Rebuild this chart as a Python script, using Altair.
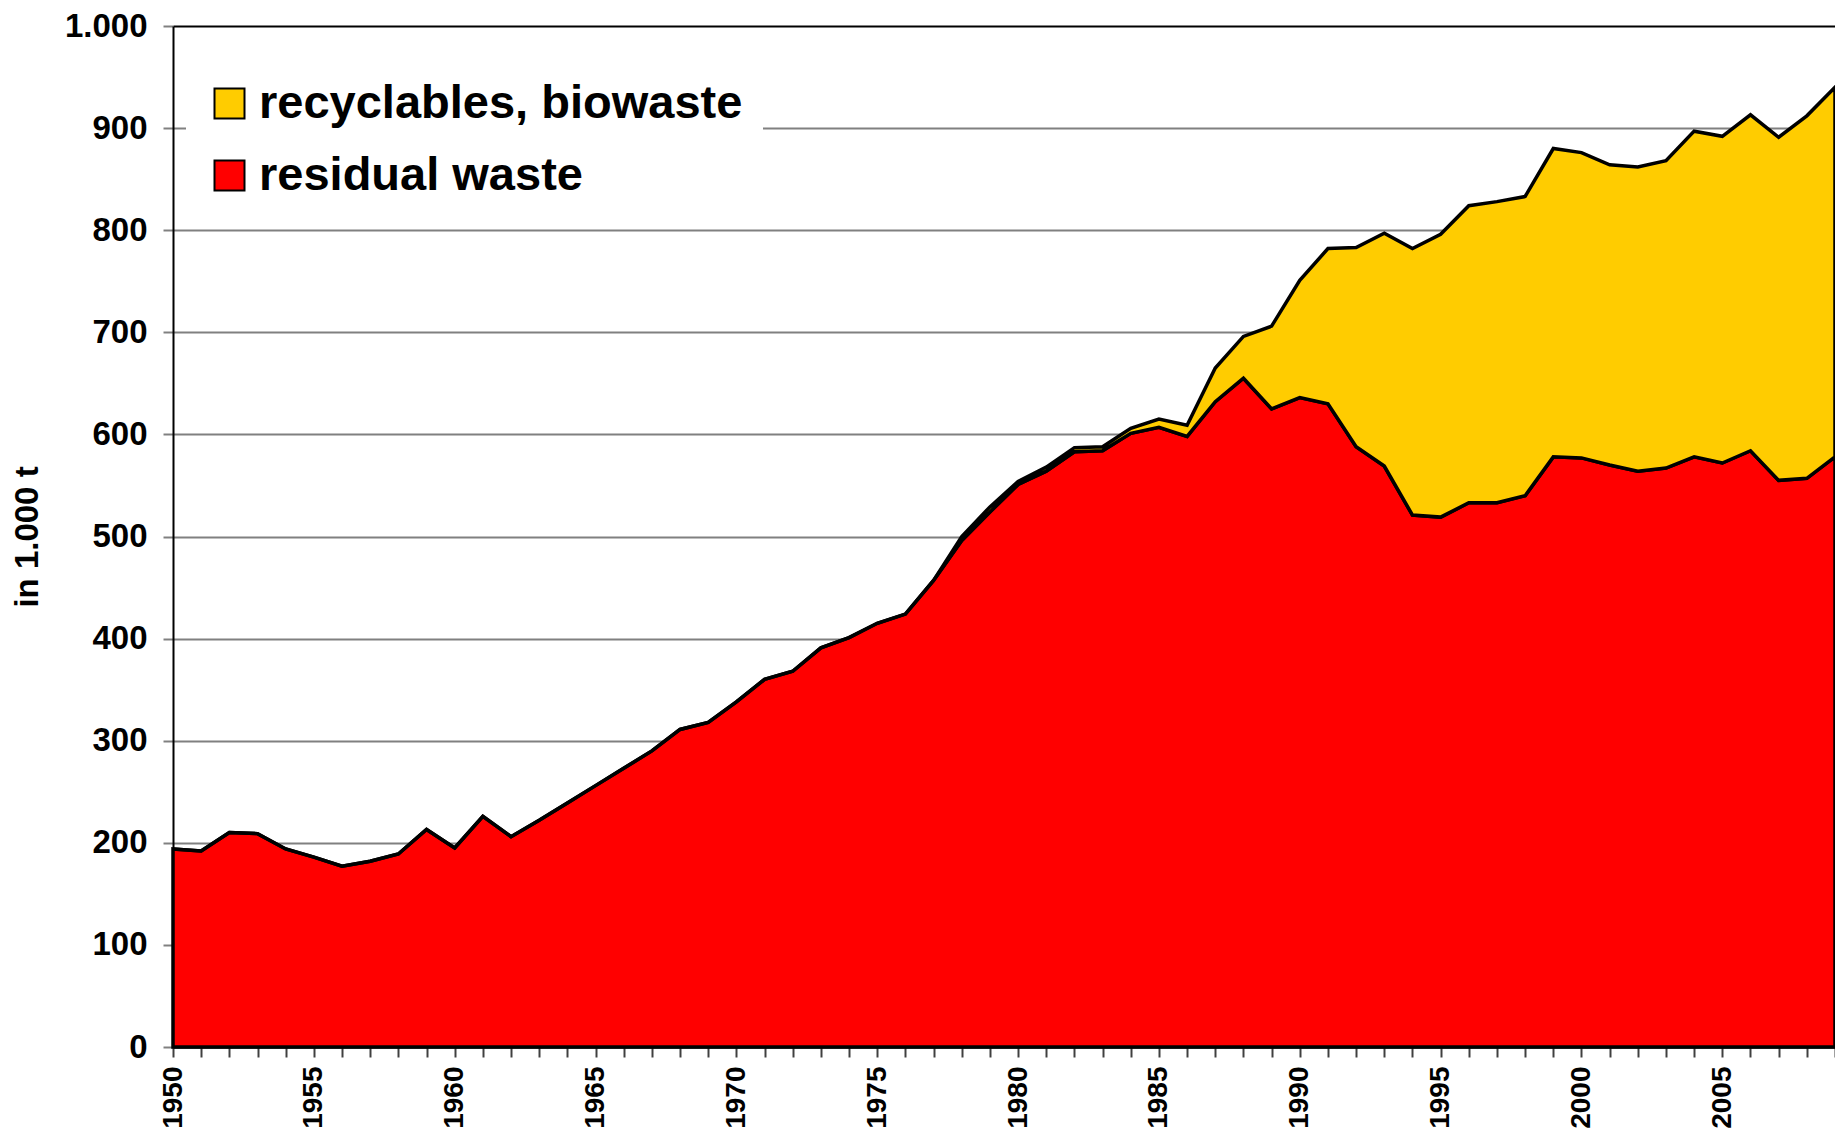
import altair as alt
import pandas as pd

years = list(range(1950, 2010))

residual_waste = [
    194, 192, 210, 209, 194, 186, 177, 182, 189, 213,
    195, 226, 206, 222, 239, 256, 273, 290, 311, 318,
    338, 360, 368, 391, 401, 415, 424, 457, 496, 524,
    551, 564, 583, 584, 601, 607, 598, 632, 655, 625,
    636, 630, 588, 569, 521, 519, 533, 533, 540, 578,
    577, 570, 564, 567, 578, 572, 584, 555, 557, 578,
]

recyclables_biowaste = [
    0, 0, 0, 0, 0, 0, 0, 0, 0, 0,
    0, 0, 0, 0, 0, 0, 0, 0, 0, 0,
    0, 0, 0, 0, 0, 0, 0, 0, 4, 5,
    3, 4, 4, 4, 5, 8, 11, 33, 41, 81,
    115, 152, 195, 228, 261, 277, 291, 295, 293, 302,
    299, 294, 298, 301, 319, 320, 329, 336, 355, 362,
]

series_names = ["recyclables, biowaste", "residual waste"]
series_colors = ["#FFCC00", "#FF0000"]
y_ticks = list(range(0, 1001, 100))

rows = []
for i, yr in enumerate(years):
    rows.append({"year": yr, "value": residual_waste[i], "series": "residual waste", "ord": 0})
    rows.append({"year": yr, "value": recyclables_biowaste[i], "series": "recyclables, biowaste", "ord": 1})
df = pd.DataFrame(rows)

FONT = "Liberation Sans"

chart = alt.Chart(df).mark_area(
    stroke="black", strokeWidth=3.5, strokeJoin="miter", opacity=1, fillOpacity=1
).encode(
    x=alt.X(
        "year:Q",
        scale=alt.Scale(domain=[1950, 2009], nice=False, zero=False),
        axis=alt.Axis(
            title=None,
            values=years,
            labelExpr="datum.value % 5 == 0 ? toString(datum.value) : ''",
            labelAngle=270,
            labelFont=FONT,
            labelFontWeight="bold",
            labelFontSize=28,
            labelColor="black",
            labelPadding=9,
            labelOverlap=False,
            labelFlush=False,
            tickSize=10,
            tickWidth=2,
            tickColor="#404040",
            domainColor="black",
            domainWidth=2,
            grid=False,
        ),
    ),
    y=alt.Y(
        "value:Q",
        stack="zero",
        scale=alt.Scale(domain=[0, 1000], nice=False),
        axis=alt.Axis(
            title="in 1.000 t",
            titleFont=FONT,
            titleFontWeight="bold",
            titleFontSize=33,
            titleColor="black",
            titleX=-146,
            titleBaseline="middle",
            values=y_ticks,
            labelExpr="replace(format(datum.value, ','), ',', '.')",
            labelFont=FONT,
            labelFontWeight="bold",
            labelFontSize=33,
            labelColor="black",
            labelPadding=16,
            tickSize=10,
            tickWidth=2,
            tickColor="#808080",
            domainColor="black",
            domainWidth=2,
            grid=True,
            gridColor=alt.condition("datum.value == 1000", alt.value("black"), alt.value("#808080")),
            gridWidth=2,
        ),
    ),
    color=alt.Color(
        "series:N",
        scale=alt.Scale(domain=series_names, range=series_colors),
        legend=alt.Legend(
            title=None,
            orient="none",
            legendX=13,
            legendY=34,
            direction="vertical",
            fillColor="white",
            padding=20,
            symbolType="square",
            symbolSize=900,
            symbolStrokeColor="black",
            symbolStrokeWidth=2,
            symbolOpacity=1,
            labelFont=FONT,
            labelFontWeight="bold",
            labelFontSize=47,
            labelColor="black",
            labelLimit=1000,
            labelOffset=6,
            rowPadding=24,
        ),
    ),
    order=alt.Order("ord:Q"),
).properties(
    width=1662,
    height=1021,
    padding={"left": 165, "top": 18, "right": 0, "bottom": 86},
    autosize=alt.AutoSizeParams(type="none"),
).configure_view(
    stroke=None
).configure(
    background="white"
)

chart.save("out.html", embed_options={"renderer": "svg", "actions": False})
